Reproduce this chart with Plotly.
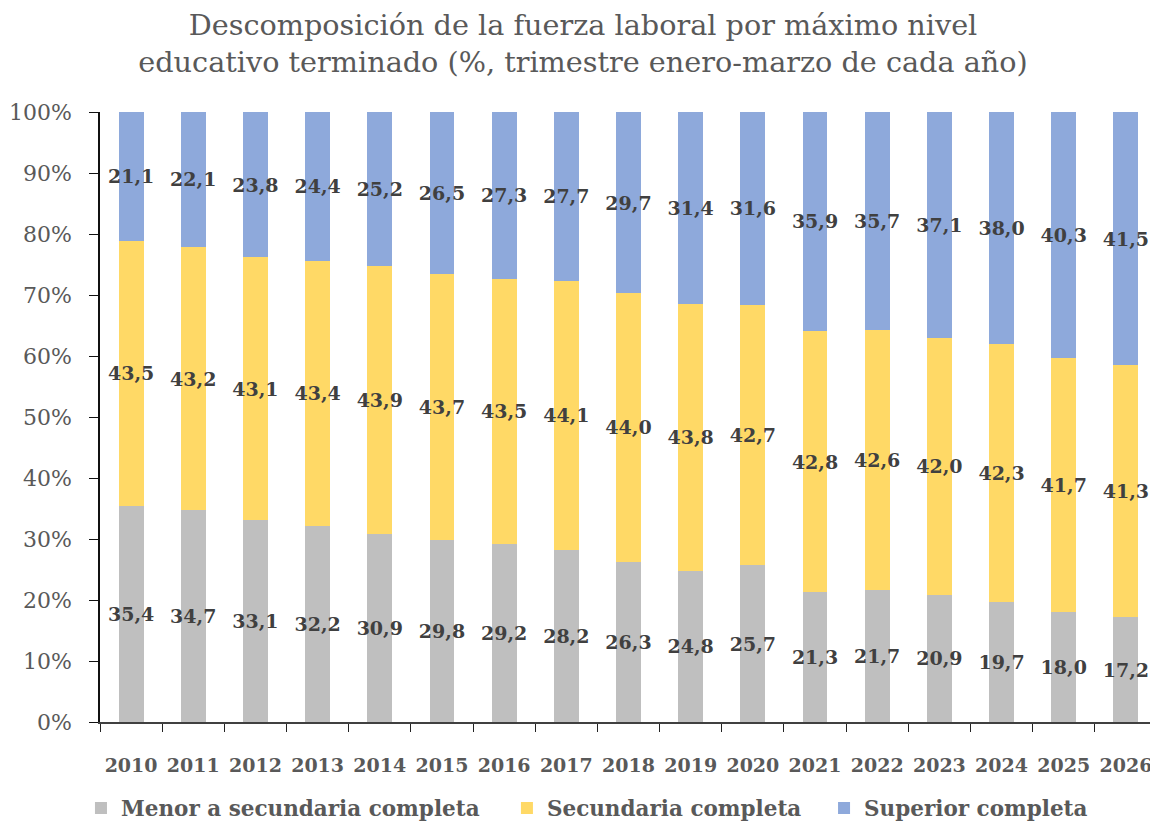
import plotly.graph_objects as go

years = [str(y) for y in range(2010, 2027)]
menor = [35.4, 34.7, 33.1, 32.2, 30.9, 29.8, 29.2, 28.2, 26.3, 24.8, 25.7, 21.3, 21.7, 20.9, 19.7, 18.0, 17.2]
secundaria = [43.5, 43.2, 43.1, 43.4, 43.9, 43.7, 43.5, 44.1, 44.0, 43.8, 42.7, 42.8, 42.6, 42.0, 42.3, 41.7, 41.3]
superior = [21.1, 22.1, 23.8, 24.4, 25.2, 26.5, 27.3, 27.7, 29.7, 31.4, 31.6, 35.9, 35.7, 37.1, 38.0, 40.3, 41.5]

title_line1 = "Descomposición de la fuerza laboral por máximo nivel"
title_line2 = "educativo terminado (%, trimestre enero-marzo de cada año)"

series = [
    ("Menor a secundaria completa", menor, "#BFBFBF", "legend", -0.018),
    ("Secundaria completa", secundaria, "#FFD966", "legend2", 0.385),
    ("Superior completa", superior, "#8EA9DB", "legend3", 0.685),
]

FONT = "DejaVu Serif"
TXT = "#595959"

fig = go.Figure()
for name, vals, col, lg, lx in series:
    fig.add_trace(go.Bar(
        x=years, y=vals, name=name, legend=lg,
        marker=dict(color=col, line=dict(width=0)),
        text=[f"{v:.1f}".replace(".", ",") for v in vals],
        textposition="inside", insidetextanchor="middle",
        constraintext="none", textangle=0,
        textfont=dict(family=FONT, size=19, color="#404040", weight="bold"),
        width=0.40,
    ))

legend_common = dict(
    orientation="h", xanchor="left", y=-0.141, yanchor="middle",
    font=dict(family=FONT, size=21.5, color=TXT, weight="bold"),
    bgcolor="rgba(0,0,0,0)",
)
legends = {}
for name, vals, col, lg, lx in series:
    legends[lg] = dict(legend_common, x=lx)

fig.update_layout(
    barmode="stack",
    width=1150, height=814,
    paper_bgcolor="white", plot_bgcolor="white",
    margin=dict(l=92, r=1, t=104, b=100, autoexpand=False),
    title=dict(
        text=title_line1 + "<br>" + title_line2,
        x=0.5, xanchor="center", xref="container",
        y=0.967, yanchor="middle", yref="container",
        font=dict(family=FONT, size=28.7, color=TXT),
    ),
    showlegend=True,
    xaxis=dict(
        type="category", range=[-0.5, 16.5],
        showline=True, linecolor="#404040", linewidth=1.5,
        ticks="outside", tickson="boundaries", ticklen=8, tickcolor="#222",
        tickfont=dict(family=FONT, size=19, color=TXT, weight="bold"),
        ticklabelstandoff=25,
        showgrid=False,
    ),
    yaxis=dict(
        range=[0, 100], dtick=10, ticksuffix="%",
        showline=True, linecolor="#111", linewidth=1.5,
        ticks="outside", ticklen=9, tickcolor="#111",
        tickfont=dict(family=FONT, size=22, color=TXT),
        ticklabelstandoff=13,
        showgrid=False, zeroline=False,
    ),
    **legends,
)

fig.write_html("out.html")
